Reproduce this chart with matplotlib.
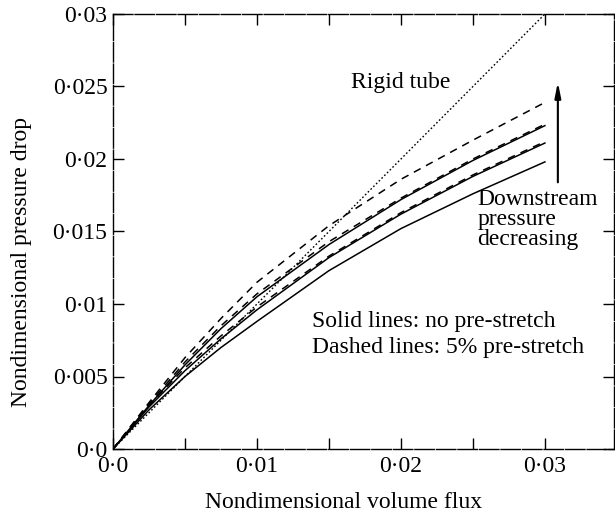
import matplotlib.pyplot as plt
import numpy as np

plt.rcParams['font.family'] = ['Liberation Serif', 'DejaVu Serif']

# nondimensional volume flux
flux = [0, 0.0025, 0.005, 0.0075, 0.01, 0.015, 0.02, 0.025, 0.03]

# solid lines: no pre-stretch
solid_1 = [0, 0.0030, 0.0058, 0.0083, 0.0105, 0.0141, 0.0172, 0.0199, 0.0223]
solid_2 = [0, 0.0029, 0.0054, 0.0076, 0.0096, 0.0132, 0.0162, 0.0188, 0.0211]
solid_3 = [0, 0.0027, 0.0050, 0.0070, 0.0088, 0.0123, 0.0152, 0.0176, 0.0198]

# dashed lines: 5% pre-stretch
dashed_1 = [0, 0.0032, 0.0063, 0.0090, 0.0115, 0.0154, 0.0186, 0.0213, 0.0239]
dashed_2 = [0, 0.0031, 0.0060, 0.0085, 0.0107, 0.0143, 0.0173, 0.0200, 0.0224]
dashed_3 = [0, 0.0030, 0.0056, 0.0078, 0.0098, 0.0133, 0.0163, 0.0189, 0.0212]

# rigid tube
rigid_flux = [0, 0.03]
rigid_drop = [0, 0.03]

x_ticks = [0, 0.005, 0.01, 0.015, 0.02, 0.025, 0.03]
x_tick_labels = ['0\u00b70', '', '0\u00b701', '', '0\u00b702', '', '0\u00b703']
y_ticks = [0, 0.005, 0.01, 0.015, 0.02, 0.025, 0.03]
y_tick_labels = ['0\u00b70', '0\u00b7005', '0\u00b701', '0\u00b7015', '0\u00b702', '0\u00b7025', '0\u00b703']

fig = plt.figure(figsize=(6.15, 5.16), dpi=100)
ax = fig.add_axes([113 / 615, 67 / 516, 501 / 615, 435 / 516])

for ys in [solid_1, solid_2, solid_3]:
    ax.plot(flux, ys, color='black', lw=1.1, ls='-')
for ys in [dashed_1, dashed_2, dashed_3]:
    ax.plot(flux, ys, color='black', lw=1.1, ls=(0, (5, 4)))
ax.plot(rigid_flux, rigid_drop, color='black', lw=1.0, ls=(0, (1.2, 1.6)))

ax.set_xlim(0, 0.0348)
ax.set_ylim(0, 0.03)

ax.set_xticks(x_ticks)
ax.set_xticklabels(x_tick_labels)
ax.set_yticks(y_ticks)
ax.set_yticklabels(y_tick_labels)
ax.tick_params(direction='in', length=8, width=1, top=True, right=True, labelsize=17)
ax.tick_params(axis='x', pad=5)
ax.tick_params(axis='y', pad=4)

for sp in ax.spines.values():
    sp.set_linewidth(1.0)
    sp.set_linestyle((0, (14, 1.5)))

ax.set_xlabel('Nondimensional volume flux', fontsize=17)
ax.xaxis.set_label_coords(0.46, -0.1)
ax.set_ylabel('Nondimensional pressure drop', fontsize=17)
ax.yaxis.set_label_coords(-0.162, 0.43)

ax.text(0.0200, 0.0253, 'Rigid tube', fontsize=17, ha='center', va='center')
ax.annotate('', xy=(0.0309, 0.0255), xytext=(0.0309, 0.0182),
            arrowprops=dict(arrowstyle='-|>,head_length=0.9,head_width=0.18',
                            color='black', lw=1.5))
ax.text(0.0253, 0.0179, 'Downstream\npressure\ndecreasing', fontsize=17,
        ha='left', va='top', linespacing=0.92)
ax.text(0.0138, 0.00876, 'Solid lines: no pre-stretch', fontsize=17,
        ha='left', va='center')
ax.text(0.0138, 0.00703, 'Dashed lines: 5% pre-stretch', fontsize=17,
        ha='left', va='center')

fig.savefig('out.png', dpi=100)
